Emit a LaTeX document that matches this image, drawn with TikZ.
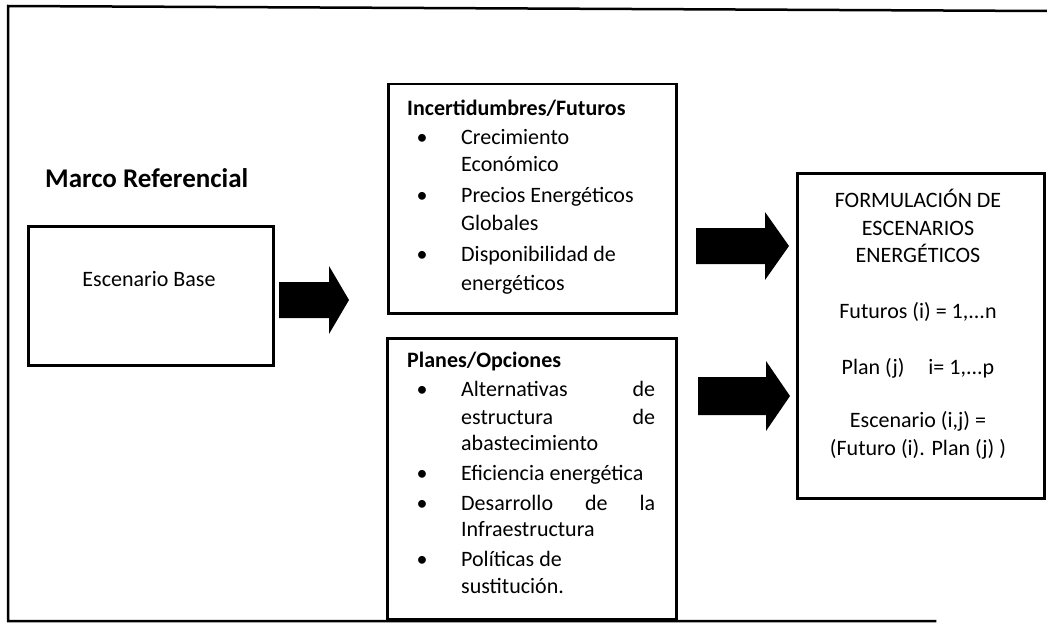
\documentclass[tikz,border=0pt]{standalone}
\usepackage{fontspec}
\setmainfont{Carlito}
\begin{document}
\begin{tikzpicture}[x=1pt,y=-1pt,
  frame/.style={line width=2.5pt, line cap=rect, line join=miter},
  box/.style={draw, line width=2.5pt, rectangle, inner sep=0, anchor=north west},
  txt/.style={anchor=base west, inner sep=0, font=\fontsize{22}{26}\selectfont},
  hd/.style={txt, font=\fontsize{22}{26}\selectfont\bfseries},
  ctr/.style={anchor=base, inner sep=0, font=\fontsize{22}{26}\selectfont},
  bul/.style={anchor=base, inner sep=0, font=\fontsize{22}{26}\selectfont},
  blockarrow/.style={fill=black}]
\useasboundingbox (0,0) rectangle (1047,626);
% outer frame (right side outside the scan)
\draw[frame] (1047,11) -- (8,6) -- (8,621) -- (935,621);

% title
\node[anchor=base west, inner sep=0, font=\fontsize{27}{32}\selectfont\bfseries] (marco) at (45,187) {Marco Referencial};

% boxes
\node[box, minimum width=245pt, minimum height=139pt] (base) at (27,225) {};
\node[box, minimum width=288pt, minimum height=229pt] (incert) at (387,83) {};
\node[box, minimum width=289pt, minimum height=281pt] (planes) at (386,337) {};
\node[box, minimum width=247pt, minimum height=325pt] (formul) at (796,172) {};

% Escenario Base
\node[ctr] (basetxt) at (149,286) {Escenario Base};

% Incertidumbres/Futuros
\node[hd] (ihd) at (407,115) {Incertidumbres/Futuros};
\node[bul] (ib1) at (422,144) {•};
\node[txt] (i1a) at (461,144) {Crecimiento};
\node[txt] (i1b) at (461,171) {Económico};
\node[bul] (ib2) at (422,202) {•};
\node[txt] (i2a) at (461,202) {Precios Energéticos};
\node[txt] (i2b) at (461,230) {Globales};
\node[bul] (ib3) at (422,261) {•};
\node[txt] (i3a) at (461,261) {Disponibilidad de};
\node[txt] (i3b) at (461,290) {energéticos};

% Planes/Opciones
\node[hd] (phd) at (407,367) {Planes/Opciones};
\node[bul] (pb1) at (422,396) {•};
\node[txt] (p1a) at (461,396) {\makebox[194pt][s]{Alternativas de}};
\node[txt] (p1b) at (461,424) {\makebox[194pt][s]{estructura de}};
\node[txt] (p1c) at (461,450) {abastecimiento};
\node[bul] (pb2) at (422,480) {•};
\node[txt] (p2a) at (461,480) {Eficiencia energética};
\node[bul] (pb3) at (422,510) {•};
\node[txt] (p3a) at (461,510) {\makebox[194pt][s]{Desarrollo de la}};
\node[txt] (p3b) at (461,536) {Infraestructura};
\node[bul] (pb4) at (422,566) {•};
\node[txt] (p4a) at (461,566) {Políticas de};
\node[txt] (p4b) at (461,593) {sustitución.};

% Formulacion
\node[ctr] (f1) at (918,207) {FORMULACIÓN DE};
\node[ctr] (f2) at (918,235) {ESCENARIOS};
\node[ctr] (f3) at (918,262) {ENERGÉTICOS};
\node[ctr] (f4) at (918,318) {Futuros (i) = 1,...n};
\node[ctr] (f5) at (918,374) {Plan (j)\hspace{24pt}i= 1,...p};
\node[ctr] (f6) at (918,427) {Escenario (i,j) =};
\node[ctr] (f7) at (918,455) {(Futuro (i). Plan (j) )};

% block arrows
\coordinate (a1tail) at (279,300);
\coordinate (a1tip) at (349,300);
\coordinate (a2tail) at (696,246);
\coordinate (a2tip) at (789,246);
\coordinate (a3tail) at (698,396);
\coordinate (a3tip) at (790,396);
\fill[blockarrow] (279,282) -- (329,282) -- (329,266) -- (a1tip) -- (329,334) -- (329,318) -- (279,318) -- cycle;
\fill[blockarrow] (696,228) -- (765,228) -- (765,212) -- (a2tip) -- (765,280) -- (765,264) -- (696,264) -- cycle;
\fill[blockarrow] (698,377) -- (766,377) -- (766,361) -- (a3tip) -- (766,431) -- (766,415) -- (698,415) -- cycle;
\end{tikzpicture}
\end{document}
